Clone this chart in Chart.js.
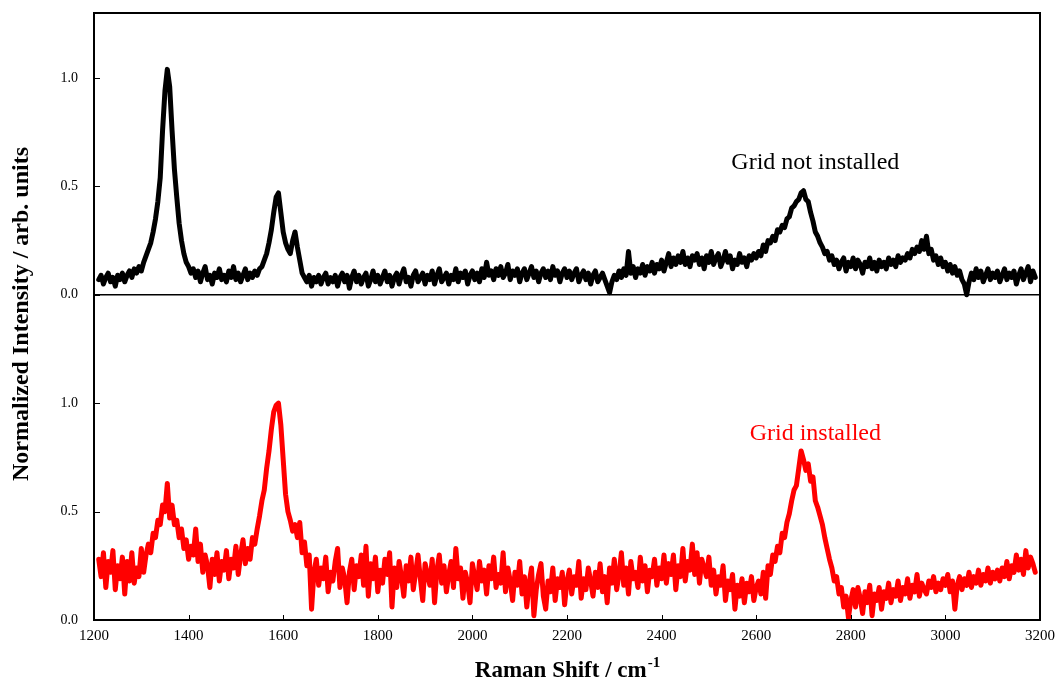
<!DOCTYPE html>
<html>
<head>
<meta charset="utf-8">
<script src="https://cdn.jsdelivr.net/npm/chart.js@4.4.1/dist/chart.umd.min.js"></script>
<style>
  html, body { margin: 0; padding: 0; background: #fff; }
  #wrap { width: 1059px; height: 684px; }
</style>
</head>
<body>
<div id="wrap"><canvas id="myChart"></canvas></div>
<script>
// Raman shift axis: first point and spacing (cm-1)
const shiftStart = 1210;
const shiftStep = 5;

// normalized intensity, 1210..3190 cm-1 (one row = 100 cm-1)
const gridNotInstalled = [
  0.07, 0.09, 0.05, 0.08, 0.10, 0.06, 0.08, 0.04, 0.09, 0.07, 0.10, 0.06, 0.09, 0.11, 0.08, 0.12, 0.10, 0.13, 0.11, 0.15,
  0.18, 0.21, 0.24, 0.29, 0.35, 0.43, 0.54, 0.76, 0.94, 1.04, 0.96, 0.76, 0.58, 0.45, 0.33, 0.25, 0.19, 0.15, 0.13, 0.10,
  0.12, 0.08, 0.11, 0.06, 0.10, 0.13, 0.07, 0.09, 0.05, 0.10, 0.08, 0.12, 0.07, 0.09, 0.06, 0.11, 0.08, 0.13, 0.07, 0.10,
  0.06, 0.09, 0.12, 0.07, 0.10, 0.08, 0.11, 0.09, 0.12, 0.13, 0.16, 0.19, 0.24, 0.30, 0.38, 0.45, 0.47, 0.38, 0.29, 0.24,
  0.21, 0.19, 0.25, 0.29, 0.22, 0.16, 0.10, 0.08, 0.06, 0.09, 0.04, 0.08, 0.06, 0.09, 0.05, 0.08, 0.10, 0.05, 0.08, 0.06,
  0.09, 0.04, 0.08, 0.10, 0.06, 0.09, 0.03, 0.08, 0.11, 0.06, 0.09, 0.05, 0.08, 0.10, 0.04, 0.07, 0.11, 0.06, 0.09, 0.05,
  0.08, 0.11, 0.06, 0.09, 0.04, 0.08, 0.10, 0.05, 0.09, 0.12, 0.06, 0.08, 0.04, 0.09, 0.11, 0.06, 0.08, 0.10, 0.05, 0.09,
  0.07, 0.11, 0.05, 0.09, 0.12, 0.06, 0.08, 0.10, 0.05, 0.09, 0.07, 0.12, 0.06, 0.10, 0.08, 0.11, 0.05, 0.09, 0.11, 0.07,
  0.10, 0.06, 0.12, 0.08, 0.15, 0.09, 0.11, 0.07, 0.12, 0.09, 0.13, 0.08, 0.10, 0.14, 0.07, 0.11, 0.09, 0.12, 0.06, 0.10,
  0.12, 0.07, 0.10, 0.13, 0.08, 0.11, 0.06, 0.10, 0.12, 0.08, 0.11, 0.07, 0.13, 0.09, 0.11, 0.06, 0.10, 0.12, 0.08, 0.11,
  0.07, 0.10, 0.12, 0.06, 0.09, 0.11, 0.07, 0.10, 0.05, 0.09, 0.11, 0.06, 0.08, 0.10, 0.07, 0.04, 0.01, 0.06, 0.09, 0.07,
  0.11, 0.08, 0.12, 0.09, 0.20, 0.10, 0.13, 0.08, 0.12, 0.10, 0.14, 0.09, 0.13, 0.11, 0.15, 0.10, 0.14, 0.12, 0.16, 0.11,
  0.15, 0.19, 0.13, 0.17, 0.14, 0.18, 0.15, 0.20, 0.14, 0.17, 0.13, 0.18, 0.16, 0.19, 0.14, 0.17, 0.12, 0.18, 0.15, 0.20,
  0.14, 0.17, 0.19, 0.13, 0.16, 0.20, 0.15, 0.18, 0.12, 0.16, 0.14, 0.19, 0.15, 0.17, 0.13, 0.18, 0.16, 0.19, 0.17, 0.20,
  0.18, 0.23, 0.20, 0.25, 0.24, 0.27, 0.25, 0.30, 0.29, 0.32, 0.31, 0.35, 0.36, 0.40, 0.41, 0.43, 0.44, 0.47, 0.48, 0.44,
  0.43, 0.38, 0.34, 0.29, 0.27, 0.24, 0.22, 0.19, 0.20, 0.16, 0.18, 0.14, 0.16, 0.12, 0.15, 0.17, 0.11, 0.15, 0.13, 0.17,
  0.12, 0.16, 0.14, 0.10, 0.15, 0.13, 0.17, 0.12, 0.15, 0.11, 0.16, 0.13, 0.15, 0.12, 0.17, 0.14, 0.16, 0.13, 0.18, 0.15,
  0.17, 0.16, 0.19, 0.17, 0.21, 0.19, 0.22, 0.20, 0.25, 0.21, 0.27, 0.19, 0.21, 0.16, 0.18, 0.14, 0.17, 0.13, 0.15, 0.11,
  0.14, 0.10, 0.13, 0.09, 0.11, 0.07, 0.05, 0.00, 0.06, 0.10, 0.07, 0.12, 0.08, 0.11, 0.06, 0.09, 0.12, 0.07, 0.10, 0.08,
  0.11, 0.06, 0.09, 0.12, 0.07, 0.10, 0.08, 0.11, 0.05, 0.09, 0.12, 0.07, 0.10, 0.13, 0.06, 0.11, 0.08
];
const gridInstalled = [
  0.28, 0.20, 0.31, 0.15, 0.27, 0.22, 0.32, 0.14, 0.25, 0.19, 0.29, 0.12, 0.27, 0.18, 0.31, 0.17, 0.24, 0.20, 0.33, 0.22,
  0.30, 0.35, 0.31, 0.40, 0.38, 0.46, 0.44, 0.53, 0.50, 0.63, 0.47, 0.53, 0.44, 0.46, 0.38, 0.42, 0.33, 0.37, 0.28, 0.34,
  0.30, 0.42, 0.27, 0.35, 0.22, 0.30, 0.25, 0.15, 0.28, 0.21, 0.31, 0.18, 0.27, 0.23, 0.32, 0.19, 0.28, 0.24, 0.34, 0.21,
  0.30, 0.37, 0.26, 0.33, 0.28, 0.38, 0.35, 0.42, 0.48, 0.55, 0.60, 0.70, 0.78, 0.88, 0.96, 0.99, 1.00, 0.90, 0.74, 0.58,
  0.50, 0.46, 0.41, 0.44, 0.38, 0.45, 0.31, 0.36, 0.25, 0.30, 0.05, 0.22, 0.28, 0.16, 0.24, 0.19, 0.29, 0.13, 0.22, 0.18,
  0.27, 0.33, 0.15, 0.24, 0.19, 0.08, 0.22, 0.28, 0.14, 0.25, 0.20, 0.30, 0.16, 0.34, 0.11, 0.26, 0.19, 0.29, 0.13, 0.23,
  0.17, 0.28, 0.21, 0.31, 0.06, 0.24, 0.15, 0.27, 0.20, 0.11, 0.25, 0.18, 0.29, 0.14, 0.22, 0.30, 0.19, 0.09, 0.26, 0.21,
  0.16, 0.28, 0.08, 0.23, 0.30, 0.17, 0.25, 0.13, 0.21, 0.27, 0.15, 0.33, 0.19, 0.24, 0.10, 0.22, 0.17, 0.08, 0.26, 0.20,
  0.14, 0.27, 0.18, 0.23, 0.12, 0.25, 0.19, 0.29, 0.15, 0.21, 0.17, 0.31, 0.13, 0.24, 0.18, 0.09, 0.22, 0.16, 0.27, 0.12,
  0.20, 0.06, 0.17, 0.24, 0.02, 0.14, 0.21, 0.26, 0.11, 0.05, 0.18, 0.13, 0.24, 0.09, 0.19, 0.15, 0.22, 0.07, 0.18, 0.23,
  0.12, 0.20, 0.16, 0.27, 0.10, 0.19, 0.14, 0.24, 0.18, 0.11, 0.22, 0.15, 0.26, 0.13, 0.20, 0.08, 0.24, 0.17, 0.28, 0.14,
  0.21, 0.31, 0.16, 0.24, 0.12, 0.27, 0.19, 0.22, 0.15, 0.29, 0.18, 0.25, 0.13, 0.23, 0.20, 0.28, 0.16, 0.24, 0.19, 0.30,
  0.17, 0.26, 0.21, 0.30, 0.14, 0.25, 0.20, 0.33, 0.18, 0.27, 0.23, 0.35, 0.21, 0.31, 0.17, 0.28, 0.24, 0.20, 0.29, 0.16,
  0.23, 0.12, 0.20, 0.16, 0.25, 0.09, 0.18, 0.14, 0.21, 0.05, 0.16, 0.11, 0.19, 0.08, 0.17, 0.13, 0.20, 0.09, 0.15, 0.18,
  0.12, 0.22, 0.10, 0.25, 0.21, 0.30, 0.27, 0.34, 0.31, 0.40, 0.38, 0.45, 0.49, 0.55, 0.60, 0.62, 0.70, 0.78, 0.74, 0.69,
  0.72, 0.64, 0.66, 0.55, 0.52, 0.48, 0.44, 0.38, 0.33, 0.28, 0.24, 0.18, 0.20, 0.12, 0.15, 0.06, 0.11, 0.01, 0.09, 0.14,
  0.06, 0.15, 0.10, 0.03, 0.13, 0.08, 0.16, 0.02, 0.12, 0.09, 0.15, 0.05, 0.13, 0.10, 0.17, 0.08, 0.14, 0.11, 0.18, 0.09,
  0.15, 0.12, 0.19, 0.10, 0.16, 0.13, 0.21, 0.11, 0.17, 0.14, 0.12, 0.18, 0.15, 0.20, 0.13, 0.17, 0.14, 0.19, 0.16, 0.21,
  0.13, 0.18, 0.05, 0.16, 0.20, 0.14, 0.19, 0.16, 0.22, 0.15, 0.20, 0.17, 0.23, 0.16, 0.21, 0.18, 0.24, 0.17, 0.22, 0.19,
  0.23, 0.18, 0.24, 0.20, 0.27, 0.19, 0.25, 0.22, 0.30, 0.23, 0.28, 0.21, 0.32, 0.24, 0.29, 0.26, 0.22
];

// upper trace is stacked above the lower one
const stackOffset = 1.5;
const yTickValues = [0, 0.5, 1.0, 1.5, 2.0, 2.5];
const yTickLabels = ['0.0', '0.5', '1.0', '0.0', '0.5', '1.0'];
const xTickValues = [1200, 1400, 1600, 1800, 2000, 2200, 2400, 2600, 2800, 3000, 3200];

const serif = "'Liberation Serif', 'Times New Roman', serif";

function toPoints(vals, off) {
  return vals.map((v, i) => ({ x: shiftStart + i * shiftStep, y: v + off }));
}

const decor = {
  id: 'decor',
  afterDraw(chart) {
    const ctx = chart.ctx;
    const a = chart.chartArea;
    const xs = chart.scales.x, ys = chart.scales.y;
    ctx.save();
    ctx.strokeStyle = '#000';
    // inner tick marks
    ctx.lineWidth = 1;
    ctx.beginPath();
    xTickValues.forEach(v => {
      const px = Math.round(xs.getPixelForValue(v)) + 0.5;
      ctx.moveTo(px, a.bottom);
      ctx.lineTo(px, a.bottom - 5);
    });
    yTickValues.forEach(v => {
      const py = Math.round(ys.getPixelForValue(v)) + 0.5;
      ctx.moveTo(a.left, py);
      ctx.lineTo(a.left + 6, py);
    });
    ctx.stroke();
    // zero line of the upper trace
    const zy = ys.getPixelForValue(stackOffset);
    ctx.lineWidth = 1.5;
    ctx.beginPath();
    ctx.moveTo(a.left, zy);
    ctx.lineTo(a.right, zy);
    ctx.stroke();
    // frame
    ctx.lineWidth = 2;
    ctx.strokeRect(a.left, a.top, a.right - a.left, a.bottom - a.top);

    // trace labels
    ctx.font = '24px ' + serif;
    ctx.textAlign = 'center';
    ctx.textBaseline = 'middle';
    ctx.fillStyle = '#000';
    ctx.fillText('Grid not installed', xs.getPixelForValue(2725), ys.getPixelForValue(2.11));
    ctx.fillStyle = '#ff0000';
    ctx.fillText('Grid installed', xs.getPixelForValue(2725), ys.getPixelForValue(0.86));

    // x title with superscript
    ctx.fillStyle = '#000';
    ctx.font = 'bold 23px ' + serif;
    ctx.textAlign = 'left';
    ctx.textBaseline = 'alphabetic';
    const main = 'Raman Shift / cm';
    const sup = '-1';
    const w1 = ctx.measureText(main).width;
    ctx.font = 'bold 15px ' + serif;
    const w2 = ctx.measureText(sup).width;
    const cx = (a.left + a.right) / 2;
    const x0 = cx - (w1 + w2) / 2;
    ctx.font = 'bold 23px ' + serif;
    ctx.fillText(main, x0, 677);
    ctx.font = 'bold 15px ' + serif;
    ctx.fillText(sup, x0 + w1 + 1, 667);

    // y title
    ctx.font = 'bold 24px ' + serif;
    ctx.textAlign = 'center';
    ctx.textBaseline = 'middle';
    ctx.translate(22, 314);
    ctx.rotate(-Math.PI / 2);
    ctx.fillText('Normalized Intensity / arb. units', 0, 0);
    ctx.restore();
  }
};

function noPad(s) {
  s.paddingTop = 0;
  s.paddingBottom = 0;
  s.paddingLeft = 0;
  s.paddingRight = 0;
}

const ctx = document.getElementById('myChart');

new Chart(ctx, {
  type: 'line',
  data: {
    datasets: [
      {
        label: 'Grid not installed',
        data: toPoints(gridNotInstalled, stackOffset),
        borderColor: '#000000',
        borderWidth: 5,
        pointRadius: 0,
        tension: 0,
        borderJoinStyle: 'round',
        borderCapStyle: 'round'
      },
      {
        label: 'Grid installed',
        data: toPoints(gridInstalled, 0),
        borderColor: '#ff0000',
        borderWidth: 5,
        pointRadius: 0,
        tension: 0,
        borderJoinStyle: 'round',
        borderCapStyle: 'round'
      }
    ]
  },
  options: {
    responsive: true,
    maintainAspectRatio: false,
    animation: false,
    layout: { padding: { top: 13, right: 19, left: 0, bottom: 0 } },
    plugins: { legend: { display: false }, tooltip: { enabled: false } },
    scales: {
      x: {
        type: 'linear',
        min: 1200,
        max: 3200,
        afterBuildTicks: s => { s.ticks = xTickValues.map(v => ({ value: v })); },
        afterFit: s => { s.height = 64; noPad(s); },
        grid: { display: false, drawTicks: false },
        border: { display: false },
        ticks: {
          padding: 7,
          color: '#000',
          font: { family: serif, size: 15 },
          maxRotation: 0,
          callback: v => String(v)
        }
      },
      y: {
        type: 'linear',
        min: 0,
        max: 2.8,
        afterBuildTicks: s => { s.ticks = yTickValues.map(v => ({ value: v })); },
        afterFit: s => { s.width = 94; noPad(s); },
        grid: { display: false, drawTicks: false },
        border: { display: false },
        ticks: {
          padding: 16,
          color: '#000',
          font: { family: serif, size: 14 },
          callback: v => yTickLabels[yTickValues.indexOf(v)]
        }
      }
    }
  },
  plugins: [decor]
});
</script>
</body>
</html>
